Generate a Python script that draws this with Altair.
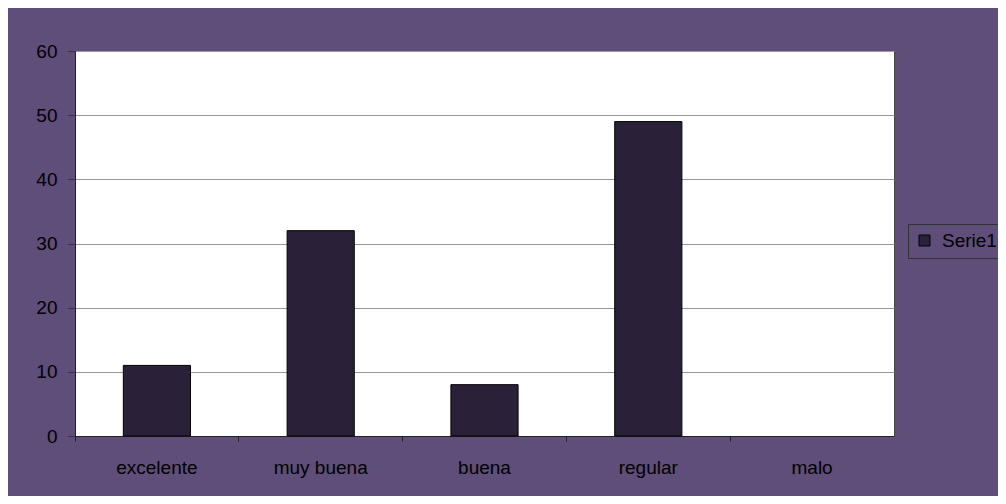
import altair as alt
import pandas as pd

categories = ["excelente", "muy buena", "buena", "regular", "malo"]
values = [11, 32, 8, 49, 0]
series = ["Serie1"] * 5

df = pd.DataFrame({"categoria": categories, "valor": values, "serie": series})

FONT = "Liberation Sans"
BG = "#5f4e79"
BAR = "#2a2139"

chart = (
    alt.Chart(df)
    .mark_bar(width={"band": 0.41}, stroke="#000000", strokeWidth=1)
    .encode(
        x=alt.X(
            "categoria:N",
            sort=categories,
            scale=alt.Scale(paddingInner=0, paddingOuter=0),
            axis=alt.Axis(
                title=None,
                labelAngle=0,
                bandPosition=0,
                labelFont=FONT,
                labelFontSize=19,
                labelColor="#000000",
                labelPadding=17,
                tickSize=5,
                tickColor="#222222",
                domainColor="#222222",
                grid=False,
            ),
        ),
        y=alt.Y(
            "valor:Q",
            scale=alt.Scale(domain=[0, 60], nice=False),
            axis=alt.Axis(
                title=None,
                values=[0, 10, 20, 30, 40, 50, 60],
                labelFont=FONT,
                labelFontSize=19,
                labelColor="#000000",
                labelPadding=11,
                tickSize=7,
                tickColor="#333333",
                domainColor="#222222",
                grid=True,
                gridColor="#9a9a9a",
                gridWidth=1,
            ),
        ),
        strokeOpacity=alt.condition(alt.datum.valor > 0, alt.value(1), alt.value(0)),
        color=alt.Color(
            "serie:N",
            scale=alt.Scale(range=[BAR]),
            legend=alt.Legend(
                title=None,
                orient="none",
                legendX=833,
                legendY=173,
                strokeColor="#333333",
                padding=7,
                symbolType="square",
                symbolSize=121,
                symbolStrokeColor="#000000",
                symbolStrokeWidth=1,
                labelFont=FONT,
                labelFontSize=19,
                labelColor="#000000",
                labelOffset=8,
            ),
        ),
    )
    .properties(
        width=819,
        height=385,
        background=BG,
        padding={"left": 67, "top": 43, "right": 104, "bottom": 60},
        autosize=alt.AutoSizeParams(type="none"),
    )
    .configure_view(fill="#ffffff", stroke="#444444", strokeWidth=1)
)

chart.save("out.html", embed_options={"renderer": "svg", "actions": False})
